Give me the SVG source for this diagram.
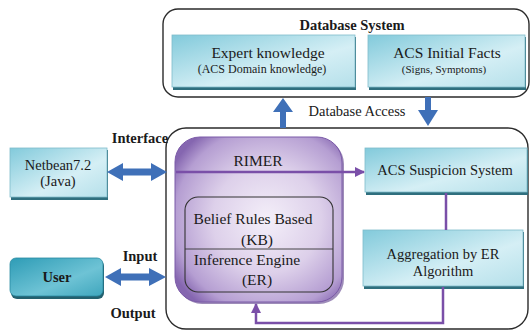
<svg xmlns="http://www.w3.org/2000/svg" width="532" height="332" viewBox="0 0 532 332" font-family="'Liberation Serif', 'Times New Roman', serif">
<defs>
<linearGradient id="teal" x1="0" y1="0" x2="1" y2="1">
<stop offset="0" stop-color="#82cadb"/>
<stop offset="0.6" stop-color="#d5eff5"/>
<stop offset="1" stop-color="#b5e0ea"/>
</linearGradient>
<linearGradient id="userg" x1="0" y1="0" x2="1" y2="1">
<stop offset="0" stop-color="#2e9cb6"/>
<stop offset="0.6" stop-color="#6ec3d5"/>
<stop offset="1" stop-color="#3fa6bd"/>
</linearGradient>
<radialGradient id="purp" cx="0.55" cy="0.5" r="0.65">
<stop offset="0" stop-color="#f4eff9"/>
<stop offset="0.5" stop-color="#ddd0ea"/>
<stop offset="0.85" stop-color="#b59ed2"/>
<stop offset="1" stop-color="#8566b0"/>
</radialGradient>
<marker id="parr" viewBox="0 0 10 10" refX="9" refY="5" markerWidth="4" markerHeight="4" orient="auto" markerUnits="strokeWidth">
<path d="M0,0 L10,5 L0,10 z" fill="#7a4fa8"/>
</marker>
</defs>
<style>
text{font-family:'Liberation Serif','Times New Roman',serif;fill:#1a1a1a;text-anchor:middle}
.b{font-weight:bold}
.t15{font-size:15.5px}
.t14{font-size:14.5px}
.t12{font-size:12px}
.t11{font-size:11px}
.tealbox{fill:url(#teal);stroke:#7fbccb;stroke-width:0.8}
.shadow{fill:#2f6f7e}
.frame{fill:none;stroke:#2b2b2b;stroke-width:1.4}
.blue{fill:#3f70b8}
.pl{fill:none;stroke:#7a4fa8;stroke-width:2.5}
</style>
<rect width="532" height="332" fill="#ffffff"/>

<g id="database-system">
<rect class="frame" x="163" y="9" width="366" height="88" rx="15"/>
<text class="b t14" x="352" y="30">Database System</text>
</g>

<g id="expert-knowledge">
<rect class="shadow" x="173" y="37" width="183" height="53"/>
<rect class="tealbox" x="172" y="35" width="183" height="52"/>
<text class="t15" x="268" y="58">Expert knowledge</text>
<text class="t12" x="262" y="73">(ACS Domain knowledge)</text>
</g>

<g id="acs-initial-facts">
<rect class="shadow" x="369" y="37" width="157" height="53"/>
<rect class="tealbox" x="368" y="35" width="157" height="52"/>
<text class="t15" x="447" y="58">ACS Initial Facts</text>
<text class="t11" x="444" y="73">(Signs, Symptoms)</text>
</g>

<g id="main-system">
<rect class="frame" x="166" y="128" width="362" height="201" rx="20"/>
</g>

<g id="rimer">
<rect x="177" y="139" width="167" height="165" rx="25" fill="#5e3f8a" opacity="0.6"/>
<rect x="175" y="137" width="167" height="165" rx="25" fill="url(#purp)" stroke="#7b5aa8" stroke-width="1"/>
<text class="t15" x="258" y="166">RIMER</text>
</g>

<g id="kb-er">
<rect x="185" y="197" width="148" height="95" rx="13" fill="none" stroke="#333" stroke-width="1.1"/>
<line x1="185" y1="249" x2="333" y2="249" stroke="#333" stroke-width="0.9"/>
<text class="t15" x="253" y="224">Belief Rules Based</text>
<text class="t15" x="257" y="245">(KB)</text>
<text class="t15" x="247" y="265">Inference Engine</text>
<text class="t15" x="257" y="285">(ER)</text>
</g>

<g id="acs-suspicion">
<rect class="shadow" x="366" y="150" width="162" height="45"/>
<rect class="tealbox" x="365" y="148" width="162" height="44"/>
<text class="t14" x="445" y="175">ACS Suspicion System</text>
</g>

<g id="aggregation">
<rect class="shadow" x="364" y="232" width="160" height="57"/>
<rect class="tealbox" x="363" y="230" width="160" height="56"/>
<text class="t14" x="443" y="259">Aggregation by ER</text>
<text class="t14" x="443" y="276">Algorithm</text>
</g>

<g id="netbean">
<rect class="shadow" x="11" y="150" width="97" height="50"/>
<rect class="tealbox" x="10" y="148" width="97" height="49"/>
<text class="t14" x="58" y="170">Netbean7.2</text>
<text class="t14" x="58" y="186">(Java)</text>
</g>

<g id="user">
<rect x="11" y="260" width="93" height="39" rx="6" fill="#23606e"/>
<rect x="10" y="258" width="93" height="38" rx="6" fill="url(#userg)" stroke="#2a8ba2" stroke-width="0.8"/>
<text class="b t14" x="57" y="282">User</text>
</g>

<g id="labels">
<text class="b t14" x="140" y="143">Interface</text>
<text class="t14" x="357" y="116">Database Access</text>
<text class="b t14" x="140" y="261">Input</text>
<text class="b t14" x="133" y="318">Output</text>
</g>

<g id="connectors">
<polygon class="blue" points="280,128 280,112 273,112 283,98 293,112 286,112 286,128"/>
<polygon class="blue" points="425,97 425,110 418,110 428,126 438,110 431,110 431,97"/>
<polygon class="blue" points="107,172 123,163 123,168.5 151,168.5 151,163 167,172 151,181 151,175.5 123,175.5 123,181"/>
<polygon class="blue" points="105,277 121,268 121,273.5 149,273.5 149,268 166,277 149,286 149,280.5 121,280.5 121,286"/>
<line class="pl" x1="176" y1="172" x2="364" y2="172" marker-end="url(#parr)"/>
<line class="pl" x1="446" y1="193" x2="446" y2="230"/>
<polyline class="pl" points="443,287 443,323 256,323 256,304" marker-end="url(#parr)"/>
</g>
</svg>
